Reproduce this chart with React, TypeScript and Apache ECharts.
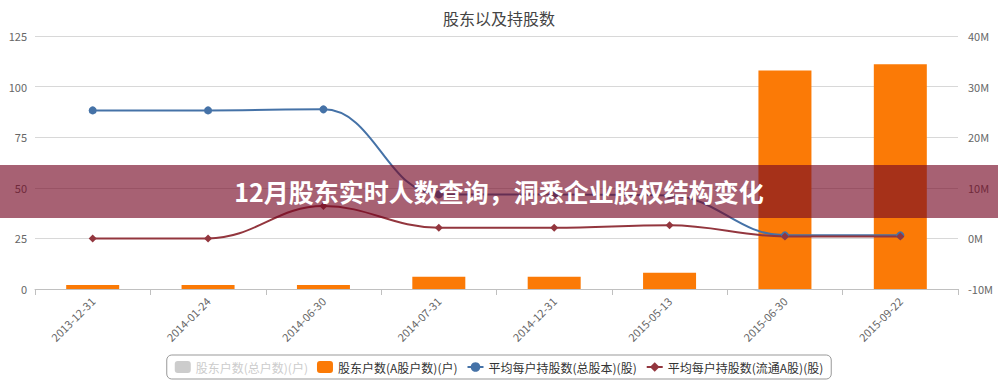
import React, { useEffect, useRef } from "react";
import * as echarts from "echarts";

const categories = [
  "2013-12-31",
  "2014-01-24",
  "2014-06-30",
  "2014-07-31",
  "2014-12-31",
  "2015-05-13",
  "2015-06-30",
  "2015-09-22",
];
const totalHouseholds = [2, 2, 2, 6, 6, 8, 108, 111];
const aShareHouseholds = [2, 2, 2, 6, 6, 8, 108, 111];
const avgTotalShares = [25300000, 25300000, 25500000, 8700000, 8700000, 8500000, 600000, 600000];
const avgFloatShares = [0, 0, 6400000, 2100000, 2100000, 2600000, 400000, 400000];
const leftTicks = { min: 0, max: 125, interval: 25 };
const rightTicks = { min: -10000000, max: 40000000, interval: 10000000 };

const titleText = "股东以及持股数";
const bannerText = "12月股东实时人数查询，洞悉企业股权结构变化";
const seriesNames = [
  "股东户数(总户数)(户)",
  "股东户数(A股户数)(户)",
  "平均每户持股数(总股本)(股)",
  "平均每户持股数(流通A股)(股)",
];

export default function App() {
  const ref = useRef<HTMLDivElement>(null);
  useEffect(() => {
    if (!ref.current) return;
    const chart = echarts.init(ref.current, null, { renderer: "svg" });
    const font = "'Noto Sans CJK SC', 'Noto Sans', sans-serif";
    chart.setOption({
      animation: false,
      textStyle: { fontFamily: font },
      title: {
        text: titleText,
        left: "center",
        top: 5,
        textStyle: { fontSize: 16, fontWeight: "normal", color: "#444", fontFamily: font },
      },
      grid: { left: 35, right: 40, top: 36, bottom: 95, containLabel: false },
      legend: {
        top: 355,
        left: "center",
        data: seriesNames,
        selected: { [seriesNames[0]]: false },
        borderColor: "#999",
        borderWidth: 1,
        borderRadius: 5,
        padding: [6, 8],
        itemGap: 9,
        itemWidth: 16,
        itemHeight: 12,
        inactiveColor: "#ccc",
        textStyle: { fontSize: 12, color: "#333", fontFamily: font },
      },
      xAxis: {
        type: "category",
        data: categories,
        axisLine: { lineStyle: { color: "#c0c0c0" } },
        axisTick: { show: true, length: 6, lineStyle: { color: "#c0c0c0" } },
        axisLabel: { rotate: 45, interval: 0, fontSize: 11, color: "#666", margin: 10, fontFamily: font },
      },
      yAxis: [
        {
          type: "value",
          min: leftTicks.min,
          max: leftTicks.max,
          interval: leftTicks.interval,
          axisLine: { show: false },
          axisTick: { show: false },
          axisLabel: { fontSize: 11, color: "#666", margin: 8, fontFamily: font },
          splitLine: { lineStyle: { color: "#d8d8d8" } },
        },
        {
          type: "value",
          min: rightTicks.min,
          max: rightTicks.max,
          interval: rightTicks.interval,
          axisLine: { show: false },
          axisTick: { show: false },
          axisLabel: {
            fontSize: 11,
            color: "#666",
            margin: 10,
            fontFamily: font,
            formatter: (v: number) => `${Math.round(v / 1000000)}M`,
          },
          splitLine: { show: false },
        },
      ],
      series: [
        {
          name: seriesNames[0],
          type: "bar",
          yAxisIndex: 0,
          barWidth: 53,
          itemStyle: { color: "#c8c8c8" },
          data: totalHouseholds,
        },
        {
          name: seriesNames[1],
          type: "bar",
          yAxisIndex: 0,
          barWidth: 53,
          itemStyle: { color: "#fb7a06" },
          data: aShareHouseholds,
        },
        {
          name: seriesNames[2],
          type: "line",
          yAxisIndex: 1,
          smooth: 0.4,
          symbol: "circle",
          symbolSize: 8,
          lineStyle: { width: 2, color: "#4572a7" },
          itemStyle: { color: "#4572a7" },
          data: avgTotalShares,
        },
        {
          name: seriesNames[3],
          type: "line",
          yAxisIndex: 1,
          smooth: 0.4,
          symbol: "diamond",
          symbolSize: 8,
          lineStyle: { width: 2, color: "#93363e" },
          itemStyle: { color: "#93363e" },
          data: avgFloatShares,
        },
      ],
      graphic: [
        {
          type: "rect",
          left: 0,
          top: 165,
          z: 100,
          shape: { width: 998, height: 53 },
          style: { fill: "rgba(118,8,36,0.64)" },
        },
        {
          type: "text",
          left: "center",
          top: 178,
          z: 101,
          style: {
            text: bannerText,
            fill: "#fff",
            font: `bold 25px ${font}`,
          },
        },
      ],
    });
    return () => chart.dispose();
  }, []);
  return <div ref={ref} style={{ width: 998, height: 384, position: "absolute", left: 0, top: 0 }} />;
}
